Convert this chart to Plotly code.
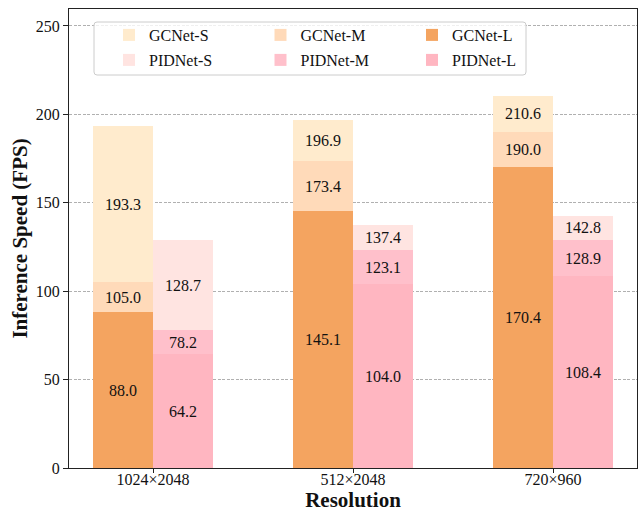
import plotly.graph_objects as go

# Inference speed (FPS) per input resolution
categories = ["1024×2048", "512×2048", "720×960"]
gcnet_s = [193.3, 196.9, 210.6]
gcnet_m = [105.0, 173.4, 190.0]
gcnet_l = [88.0, 145.1, 170.4]
pidnet_s = [128.7, 137.4, 142.8]
pidnet_m = [78.2, 123.1, 128.9]
pidnet_l = [64.2, 104.0, 108.4]
y_ticks = [0, 50, 100, 150, 200, 250]

FONT = "Liberation Serif"
BAR_W = 0.3
xpos = list(range(len(categories)))

fig = go.Figure()

groups = [
    # (names, value lists, colours, offset, legend)
    (["GCNet-S", "GCNet-M", "GCNet-L"], [gcnet_s, gcnet_m, gcnet_l],
     ["#FFEBCD", "#FFDAB9", "#F4A460"], -BAR_W, "legend"),
    (["PIDNet-S", "PIDNet-M", "PIDNet-L"], [pidnet_s, pidnet_m, pidnet_l],
     ["#FFE4E1", "#FFC0CB", "#FFB6C1"], 0.0, "legend2"),
]

annotations = []
for names, series, colors, off, leg in groups:
    # widest (S) first so the smaller models are overlaid in front
    for name, vals, col in zip(names, series, colors):
        fig.add_trace(go.Bar(
            x=xpos, y=vals, name=name, width=BAR_W, offset=off,
            marker=dict(color=col, line=dict(width=0)),
            legend=leg,
        ))
    s_vals, m_vals, l_vals = series
    for i in xpos:
        xc = i + off + BAR_W / 2
        mids = [l_vals[i] / 2,
                (l_vals[i] + m_vals[i]) / 2,
                (m_vals[i] + s_vals[i]) / 2]
        for v, y in zip([l_vals[i], m_vals[i], s_vals[i]], mids):
            annotations.append(dict(
                x=xc, y=y, xref="x", yref="y", text=f"{v:.1f}",
                showarrow=False, font=dict(family=FONT, size=16, color="#111111"),
            ))

# plot-area geometry in px (for the legend frame)
L, R, T, B, W, H = 69, 4, 9, 44, 641, 512
pw, ph = W - L - R, H - T - B


def px_x(p):
    return (p - L) / pw


def px_y(p):
    return (H - B - p) / ph


bx0, bx1, by0, by1 = px_x(94), px_x(526), px_y(22), px_y(75)
rx, ry = 3 / pw, 3 / ph
frame_path = (
    f"M{bx0 + rx},{by0} L{bx1 - rx},{by0} Q{bx1},{by0} {bx1},{by0 - ry} "
    f"L{bx1},{by1 + ry} Q{bx1},{by1} {bx1 - rx},{by1} "
    f"L{bx0 + rx},{by1} Q{bx0},{by1} {bx0},{by1 + ry} "
    f"L{bx0},{by0 - ry} Q{bx0},{by0} {bx0 + rx},{by0} Z"
)

legend_common = dict(
    orientation="h", xanchor="left", yanchor="top",
    bgcolor="rgba(0,0,0,0)", borderwidth=0,
    font=dict(family=FONT, size=16, color="#111111"),
    entrywidth=106.5, traceorder="normal",
)

fig.update_layout(
    width=W, height=H,
    margin=dict(l=L, r=R, t=T, b=B, autoexpand=False),
    paper_bgcolor="white", plot_bgcolor="white",
    barmode="overlay", bargap=0,
    font=dict(family=FONT, size=16, color="#111111"),
    showlegend=True,
    legend=dict(x=px_x(109), y=px_y(18), **legend_common),
    legend2=dict(x=px_x(109), y=px_y(43), **legend_common),
    annotations=annotations,
    shapes=[dict(type="path", path=frame_path, xref="paper", yref="paper",
                 fillcolor="rgba(255,255,255,0.8)",
                 line=dict(color="#cccccc", width=1), layer="above")],
    xaxis=dict(
        range=[-0.42, 2.42], tickmode="array", tickvals=xpos, ticktext=categories,
        ticks="outside", ticklen=4, tickcolor="#222222",
        showline=True, linecolor="#222222", linewidth=1, mirror=True,
        showgrid=False, zeroline=False, ticklabelstandoff=-7,
        tickfont=dict(family=FONT, size=16, color="#111111"),
        title=dict(text="<b>Resolution</b>", font=dict(family=FONT, size=21, color="#111111"),
                   standoff=9),
    ),
    yaxis=dict(
        range=[0, 259.6], tickmode="array", tickvals=y_ticks,
        ticks="outside", ticklen=5, tickcolor="#222222",
        showline=True, linecolor="#222222", linewidth=1, mirror=True,
        showgrid=True, gridcolor="#b0b0b0", gridwidth=0.8, griddash="3px,1.5px",
        zeroline=False,
        tickfont=dict(family=FONT, size=16, color="#111111"),
        title=dict(text="<b>Inference Speed (FPS)</b>",
                   font=dict(family=FONT, size=21, color="#111111"), standoff=2),
    ),
)

fig.write_html("out.html")
